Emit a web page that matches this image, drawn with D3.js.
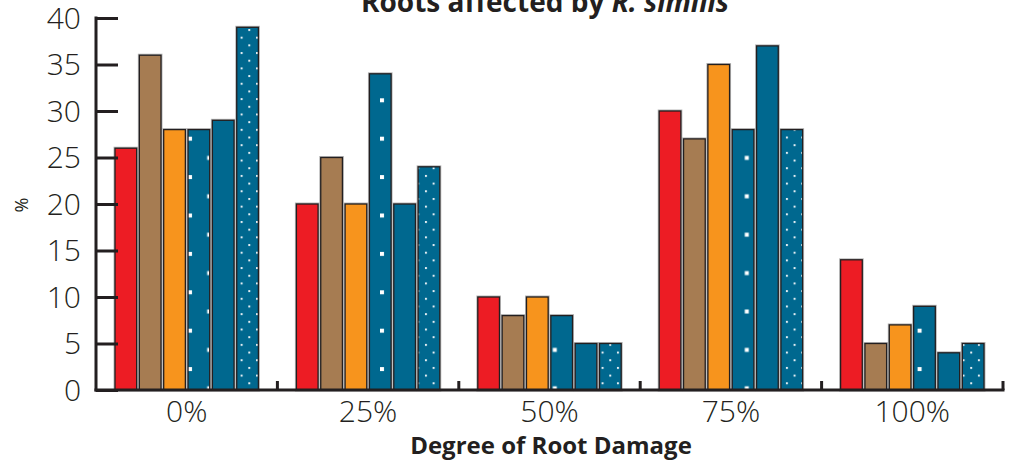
<!DOCTYPE html>
<html lang="en">
<head>
    <meta charset="UTF-8">
    <title>Roots affected by R. similis</title>
    <script src="https://d3js.org/d3.v7.min.js"></script>
    <style>
        body { margin: 0; background: #fff; }
        svg { display: block; font-family: "Open Sans", "Liberation Sans", sans-serif; }
        .tick-label { font-weight: 300; font-size: 30px; fill: #231f20; }
    </style>
</head>
<body>
    <svg id="chart" width="1018" height="462"></svg>

    <script>
        // chart data
        const categories = ["0%", "25%", "50%", "75%", "100%"];
        const seriesNames = ["s1", "s2", "s3", "s4", "s5", "s6"];
        const s1 = [26, 20, 10, 30, 14];
        const s2 = [36, 25, 8, 27, 5];
        const s3 = [28, 20, 10, 35, 7];
        const s4 = [28, 34, 8, 28, 9];
        const s5 = [29, 20, 5, 37, 4];
        const s6 = [39, 24, 5, 28, 5];
        const yTicks = [0, 5, 10, 15, 20, 25, 30, 35, 40];

        const seriesValues = [s1, s2, s3, s4, s5, s6];
        const fills = ["#ed1c24", "#a67c52", "#f7941d", "url(#sparse)", "#00688f", "url(#dense)"];
        const blue = "#00688f";
        const ink = "#231f20";

        const svg = d3.select("#chart");
        const plotLeft = 96, plotRight = 1003, plotTop = 18, plotBottom = 390;

        const x0 = d3.scaleBand().domain(categories).range([plotLeft, plotRight]).padding(0);
        const x1 = d3.scaleBand().domain(seriesNames).range([19, x0.step() - 19]).paddingInner(0.11);
        const y = d3.scaleLinear().domain([0, 40]).range([plotBottom, plotTop]);

        // patterns: diagonal lattices of white squares on the blue fill
        const defs = svg.append("defs");
        const sp = defs.append("pattern")
            .attr("id", "sparse")
            .attr("patternUnits", "userSpaceOnUse")
            .attr("x", 188).attr("y", 21.5)
            .attr("width", 38.4).attr("height", 38.4);
        sp.append("rect").attr("width", 38.4).attr("height", 38.4).attr("fill", blue);
        sp.append("rect").attr("x", 0).attr("y", 0).attr("width", 4).attr("height", 4).attr("fill", "#fff");
        sp.append("rect").attr("x", 19.2).attr("y", 19.2).attr("width", 4).attr("height", 4).attr("fill", "#fff");

        const dn = defs.append("pattern")
            .attr("id", "dense")
            .attr("patternUnits", "userSpaceOnUse")
            .attr("x", 248.3).attr("y", 29)
            .attr("width", 15.36).attr("height", 15.36);
        dn.append("rect").attr("width", 15.36).attr("height", 15.36).attr("fill", blue);
        dn.append("rect").attr("x", 0).attr("y", 0).attr("width", 2).attr("height", 2).attr("fill", "#e4eef3");
        dn.append("rect").attr("x", 7.68).attr("y", 7.68).attr("width", 2).attr("height", 2).attr("fill", "#e4eef3");

        // title (clipped at the top like the reference)
        const title = svg.append("text")
            .attr("x", 545).attr("y", 12)
            .attr("text-anchor", "middle")
            .attr("font-size", 28).attr("font-weight", 700)
            .attr("fill", ink);
        title.append("tspan").text("Roots affected by ");
        title.append("tspan").attr("font-style", "italic").text("R. similis");

        // bars
        const bars = categories.flatMap((c, i) =>
            seriesNames.map((s, j) => ({ cat: c, key: s, value: seriesValues[j][i], fill: fills[j] })));
        const barX = d => x0(d.cat) + x1(d.key);

        svg.append("g")
            .selectAll("rect")
            .data(bars)
            .join("rect")
            .attr("x", barX)
            .attr("y", d => y(d.value))
            .attr("width", x1.bandwidth())
            .attr("height", d => y(0) - y(d.value))
            .attr("fill", "none")
            .attr("stroke", "#b8b8b8")
            .attr("stroke-width", 3);

        svg.append("g")
            .selectAll("rect")
            .data(bars)
            .join("rect")
            .attr("x", barX)
            .attr("y", d => y(d.value))
            .attr("width", x1.bandwidth())
            .attr("height", d => y(0) - y(d.value))
            .attr("fill", d => d.fill)
            .attr("stroke", ink)
            .attr("stroke-width", 1.3);

        // y axis
        const yAxis = svg.append("g")
            .attr("transform", `translate(${plotLeft},0)`)
            .call(d3.axisRight(y).tickValues(yTicks).tickSize(22).tickFormat(""));
        yAxis.select(".domain").remove();
        yAxis.selectAll(".tick line").attr("stroke", ink).attr("stroke-width", 3);
        svg.append("line")
            .attr("x1", plotLeft).attr("x2", plotLeft)
            .attr("y1", y(40) - 1.5).attr("y2", plotBottom + 1.5)
            .attr("stroke", ink).attr("stroke-width", 3);

        svg.append("g").selectAll("text")
            .data(yTicks)
            .join("text")
            .attr("class", "tick-label")
            .attr("x", 81)
            .attr("y", d => y(d))
            .attr("dy", "0.36em")
            .attr("text-anchor", "end")
            .text(d => d);

        // x axis
        svg.append("line")
            .attr("x1", plotLeft - 1.5).attr("x2", plotRight + 1.5)
            .attr("y1", plotBottom).attr("y2", plotBottom)
            .attr("stroke", ink).attr("stroke-width", 3);
        const bounds = categories.slice(1).map(c => x0(c)).concat([plotRight]);
        svg.append("g").selectAll("line")
            .data(bounds)
            .join("line")
            .attr("x1", d => d).attr("x2", d => d)
            .attr("y1", plotBottom).attr("y2", plotBottom - 9)
            .attr("stroke", ink).attr("stroke-width", 3);

        svg.append("g").selectAll("text")
            .data(categories)
            .join("text")
            .attr("class", "tick-label")
            .attr("x", d => x0(d) + x0.bandwidth() / 2)
            .attr("y", 422)
            .attr("text-anchor", "middle")
            .text(d => d);

        // axis titles
        svg.append("text")
            .attr("x", 551).attr("y", 454)
            .attr("text-anchor", "middle")
            .attr("font-size", 24).attr("font-weight", 700)
            .attr("fill", ink)
            .text("Degree of Root Damage");

        svg.append("text")
            .attr("transform", "translate(28,205) rotate(-90)")
            .attr("text-anchor", "middle")
            .attr("font-size", 18)
            .attr("fill", ink)
            .text("%");
    </script>
</body>
</html>
